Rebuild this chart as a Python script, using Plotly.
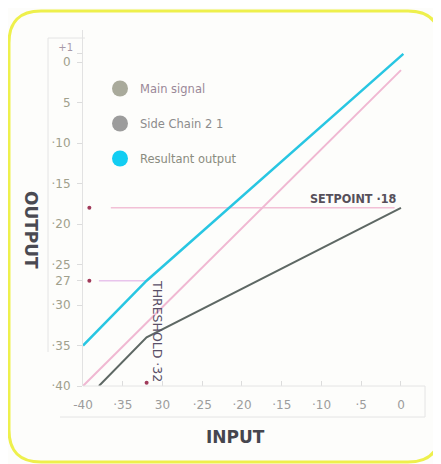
import plotly.graph_objects as go

# ---------------- data ----------------
main_x = [-40, 0]
main_y = [-40, -1]

side_x = [-38, -32, 0]
side_y = [-40, -34, -18]

result_x = [-40, -32, 0.3]
result_y = [-35, -27, 1]

setpoint_x = [-36.5, -0.8]
setpoint_y = [-18, -18]
thresh27_x = [-38, -32]
thresh27_y = [-27, -27]
dots_x = [-39.2, -39.2, -32]
dots_y = [-18, -27, -39.6]

x_ticks = [-40, -35, -30, -25, -20, -15, -10, -5, 0]
x_ticktext = ["-40", "·35", "30", "·25", "·20", "·15", "·10", "·5", "0"]
y_ticks = [1, 0, -5, -10, -15, -20, -25, -27, -30, -35, -40]
y_ticktext = ["", "0", "5", "·10", "·15", "·20", "·25", "27", "·30", "·35", "·40"]
y2_ticks = [1.75]
y2_ticktext = ["+1"]

legend_names = ["Main signal", "Side Chain 2 1", "Resultant output"]
legend_colors = ["#a9aa9b", "#9c9c9c", "#12cdf2"]
legend_text_colors = ["#9a8898", "#8c8c8c", "#8a8c80"]

# ---------------- layout geometry ----------------
# the page body has an 8px margin, so reference pixel p -> figure pixel p - 8
OFF = 8
W, H = 441 - OFF, 464 - OFF
L, T = 83 - OFF, 30 - OFF
PLOT_R, PLOT_B = 430 - OFF, 386 - OFF
R, B = W - PLOT_R, H - PLOT_B
PW, PH = PLOT_R - L, PLOT_B - T


def px(x):
    return (x - OFF - L) / PW


def py(y):
    return (PLOT_B - (y - OFF)) / PH


fig = go.Figure()

# reference guide lines
fig.add_trace(go.Scatter(x=setpoint_x, y=setpoint_y, mode="lines",
                         line=dict(color="#f2c0d6", width=1.5),
                         showlegend=False, hoverinfo="skip"))
fig.add_trace(go.Scatter(x=thresh27_x, y=thresh27_y, mode="lines",
                         line=dict(color="#e8c4ec", width=1.5),
                         showlegend=False, hoverinfo="skip"))

# main curves
fig.add_trace(go.Scatter(x=main_x, y=main_y, mode="lines",
                         line=dict(color="#f0b8d2", width=2),
                         showlegend=False, hoverinfo="skip"))
fig.add_trace(go.Scatter(x=side_x, y=side_y, mode="lines",
                         line=dict(color="#5e6864", width=2),
                         showlegend=False, hoverinfo="skip"))
fig.add_trace(go.Scatter(x=result_x, y=result_y, mode="lines",
                         line=dict(color="#28c6e2", width=2.5),
                         showlegend=False, hoverinfo="skip"))

# small maroon dots
fig.add_trace(go.Scatter(x=dots_x, y=dots_y, mode="markers",
                         marker=dict(color="#a03a5a", size=4),
                         showlegend=False, hoverinfo="skip", cliponaxis=False))

# legend entries
for i, (n, c, tc) in enumerate(zip(legend_names, legend_colors, legend_text_colors)):
    fig.add_trace(go.Scatter(x=[None], y=[None], mode="markers",
                             marker=dict(color=c, size=17),
                             name=f"<span style='color:{tc}'>{n}</span>",
                             legendgroup=f"g{i}", showlegend=True))

# helper trace for the secondary y axis ("+1" label)
fig.add_trace(go.Scatter(x=[None], y=[None], yaxis="y2", showlegend=False, hoverinfo="skip"))

# annotations
fig.add_annotation(x=-0.2, y=-18, xref="x", yref="y", text="<b>SETPOINT ·18</b>",
                   showarrow=False, xanchor="right", yanchor="bottom", yshift=0,
                   font=dict(family="DejaVu Sans Condensed, DejaVu Sans", size=12.5, color="#56505a"))
fig.add_annotation(x=-30.7, y=-33.2, xref="x", yref="y", text="THRESHOLD ·32",
                   showarrow=False, textangle=90, xanchor="center", yanchor="middle",
                   font=dict(family="DejaVu Sans", size=12.5, color="#5a5068"))
fig.add_annotation(x=px(31), y=py(230), xref="paper", yref="paper", text="<b>OUTPUT</b>",
                   showarrow=False, textangle=90, xanchor="center", yanchor="middle",
                   font=dict(family="DejaVu Sans", size=17, color="#4a4a52"))
fig.add_annotation(x=px(235), y=py(437), xref="paper", yref="paper", text="<b>INPUT</b>",
                   showarrow=False, xanchor="center", yanchor="middle",
                   font=dict(family="DejaVu Sans", size=17, color="#46464e"))

# decorative shapes: label boxes and rounded yellow card border
shapes = []
box = dict(type="line", xref="paper", yref="paper", line=dict(color="#e4e4e4", width=1))
shapes.append({**box, "x0": px(48), "y0": py(38), "x1": px(48), "y1": py(352)})
shapes.append({**box, "x0": px(48), "y0": py(38), "x1": px(85), "y1": py(38)})
shapes.append({**box, "x0": px(60), "y0": py(417), "x1": px(425), "y1": py(417)})
shapes.append({**box, "x0": px(425), "y0": py(386), "x1": px(425), "y1": py(417)})
shapes.append({**box, "x0": px(83), "y0": py(386), "x1": px(425), "y1": py(386)})

x0, x1, y0, y1, r = 9, 440, 11, 462, 32


def P(x, y):
    return f"{px(x):.5f},{py(y):.5f}"


path = (f"M {P(x0 + r, y0)} L {P(x1 - r, y0)} Q {P(x1, y0)} {P(x1, y0 + r)} "
        f"L {P(x1, y1 - r)} Q {P(x1, y1)} {P(x1 - r, y1)} "
        f"L {P(x0 + r, y1)} Q {P(x0, y1)} {P(x0, y1 - r)} "
        f"L {P(x0, y0 + r)} Q {P(x0, y0)} {P(x0 + r, y0)} Z")
shapes.append(dict(type="path", xref="paper", yref="paper", path=path,
                   line=dict(color="#eef04c", width=3), layer="below"))

fig.update_layout(
    width=W, height=H,
    margin=dict(l=L, r=R, t=T, b=B, pad=0),
    paper_bgcolor="#fdfdfb", plot_bgcolor="#fdfdfb",
    font=dict(family="DejaVu Sans", size=11, color="#9a9a8a"),
    shapes=shapes,
    showlegend=True,
    legend=dict(x=px(100), y=py(74), xanchor="left", yanchor="top",
                bgcolor="rgba(0,0,0,0)", tracegroupgap=16,
                font=dict(family="DejaVu Sans", size=11.5), itemsizing="trace"),
    xaxis=dict(range=[-40, 3.65], tickvals=x_ticks, ticktext=x_ticktext,
               showgrid=False, zeroline=False, showline=False,
               ticks="inside", ticklen=5, tickcolor="#dcdcdc",
               ticklabelstandoff=10,
               tickfont=dict(size=12, color="#9c9c9c")),
    yaxis=dict(range=[-40, 3.95], tickvals=y_ticks, ticktext=y_ticktext,
               showgrid=False, zeroline=False, showline=True, linecolor="#e2e2e2",
               ticks="outside", ticklen=5, tickcolor="#dcdcdc",
               ticklabelstandoff=4,
               tickfont=dict(size=12, color="#a0a08c")),
    yaxis2=dict(range=[-40, 3.95], overlaying="y", side="left", anchor="x",
                tickvals=y2_ticks, ticktext=y2_ticktext,
                showgrid=False, zeroline=False, showline=False, ticks="",
                ticklabelstandoff=9,
                tickfont=dict(size=10, color="#a89aa8")),
)

fig.write_html("out.html")
